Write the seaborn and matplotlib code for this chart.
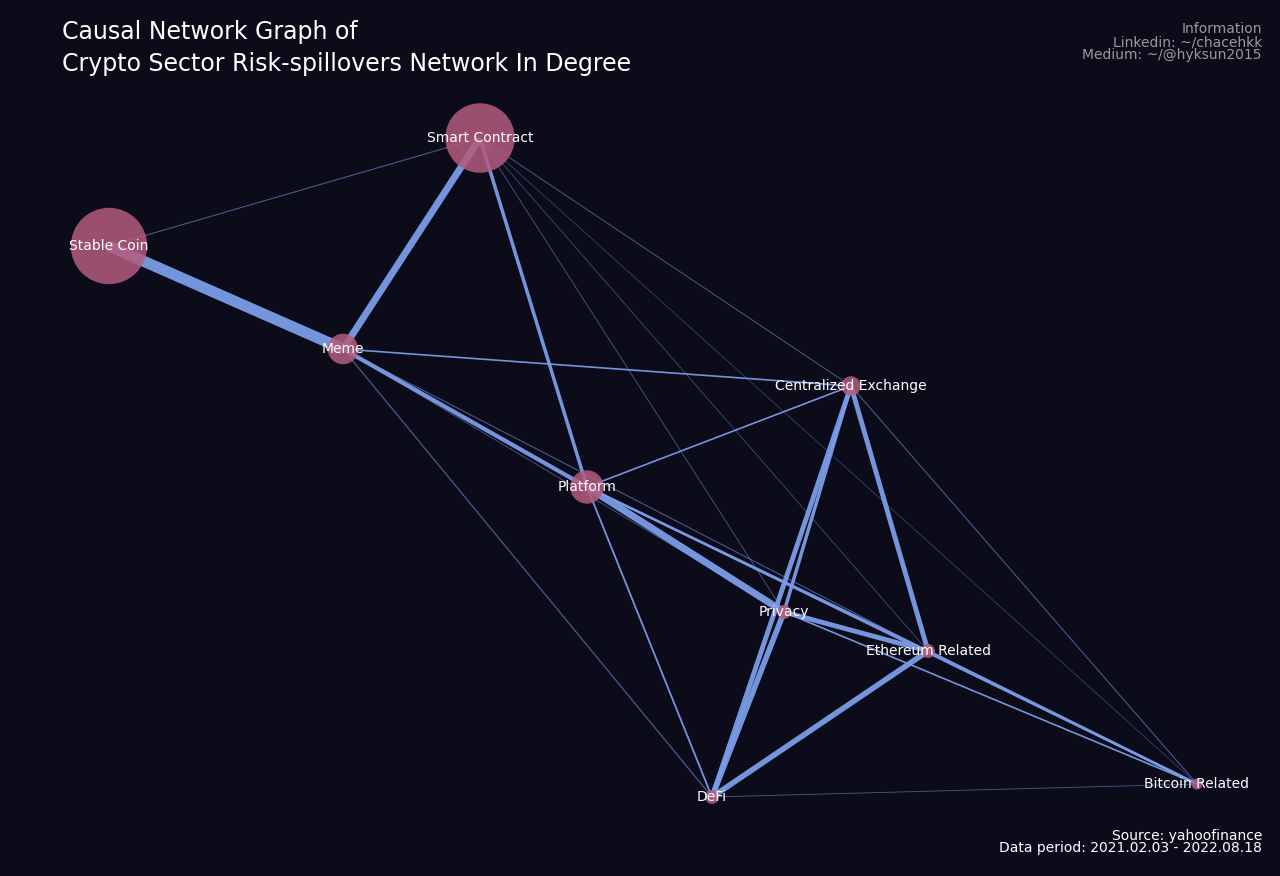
import numpy as np
import pandas as pd
import matplotlib
matplotlib.use("Agg")
import matplotlib.pyplot as plt
import seaborn as sns

# Node layout (graph layout coordinates) and in-degree driven node size
nodes = ["Smart Contract", "Stable Coin", "Meme", "Centralized Exchange", "Platform",
         "Privacy", "Ethereum Related", "DeFi", "Bitcoin Related"]
node_x = [480, 109, 343, 851, 587, 784, 928, 712, 1197]
node_y = [138, 246, 349, 386, 487, 612, 651, 797, 784]
node_size = [50, 55, 22, 14, 24, 10, 10, 10, 8]

# Edges: source, target, weight
edge_src = ["Stable Coin", "Smart Contract", "Smart Contract", "Smart Contract", "Smart Contract",
            "Smart Contract", "Smart Contract", "Smart Contract", "Meme", "Meme", "Meme", "Meme",
            "Meme", "Platform", "Platform", "Platform", "Platform", "Platform",
            "Centralized Exchange", "Centralized Exchange", "Centralized Exchange",
            "Privacy", "Privacy", "Privacy", "Ethereum Related", "Ethereum Related",
            "DeFi", "Centralized Exchange"]
edge_dst = ["Meme", "Meme", "Stable Coin", "Platform", "Privacy", "Ethereum Related",
            "Bitcoin Related", "Centralized Exchange", "Centralized Exchange", "Platform",
            "Privacy", "Ethereum Related", "DeFi", "Centralized Exchange", "Privacy",
            "Ethereum Related", "Bitcoin Related", "DeFi", "DeFi", "Ethereum Related",
            "Privacy", "DeFi", "Ethereum Related", "Bitcoin Related", "DeFi",
            "Bitcoin Related", "Bitcoin Related", "Bitcoin Related"]
edge_w = [8, 5, 0.8, 2.5, 0.6, 0.5, 0.4, 0.7, 1.2, 3, 0.6, 0.8, 0.9, 1.2, 5, 1.8,
          1.3, 1.3, 3.5, 3.5, 2.5, 4, 3.5, 1.2, 4, 2, 0.6, 0.8]

bg = "#0b0b1a"
edge_col = "#7b9ce8"
node_col = "#b45c7e"

pos = {n: (x, y) for n, x, y in zip(nodes, node_x, node_y)}
df = pd.DataFrame({"node": nodes, "x": node_x, "y": node_y, "size": node_size})

fig = plt.figure(figsize=(12.8, 8.76), dpi=100, facecolor=bg)
ax = fig.add_axes([0, 0, 1, 1])
ax.set_facecolor(bg)

for s, d, w in zip(edge_src, edge_dst, edge_w):
    (x0, y0), (x1, y1) = pos[s], pos[d]
    alpha = 0.95 if w >= 1 else 0.55
    ax.plot([x0, x1], [y0, y1], color=edge_col, lw=w, alpha=alpha, zorder=1,
            solid_capstyle="butt")

sns.scatterplot(data=df, x="x", y="y", s=np.array(node_size) ** 2, color=node_col,
                alpha=0.85, edgecolor="none", ax=ax, legend=False, zorder=2)
for n, x, y in zip(nodes, node_x, node_y):
    ax.text(x, y, n, color="white", fontsize=10, ha="center", va="center", zorder=3)

ax.set_xlim(0, 1280)
ax.set_ylim(876, 0)
ax.axis("off")

fig.text(62 / 1280, 1 - 32 / 876, "Causal Network Graph of", color="white", fontsize=17, va="center")
fig.text(62 / 1280, 1 - 64 / 876, "Crypto Sector Risk-spillovers Network In Degree",
         color="white", fontsize=17, va="center")
fig.text(1262 / 1280, 1 - 42 / 876, "Information\nLinkedin: ~/chacehkk\nMedium: ~/@hyksun2015",
         color="#9a9a9a", fontsize=10, ha="right", va="center", linespacing=0.9)
fig.text(1262 / 1280, 1 - 842 / 876, "Source: yahoofinance\nData period: 2021.02.03 - 2022.08.18",
         color="white", fontsize=10, ha="right", va="center", linespacing=0.9)

fig.savefig("out.png", dpi=100, facecolor=bg)
